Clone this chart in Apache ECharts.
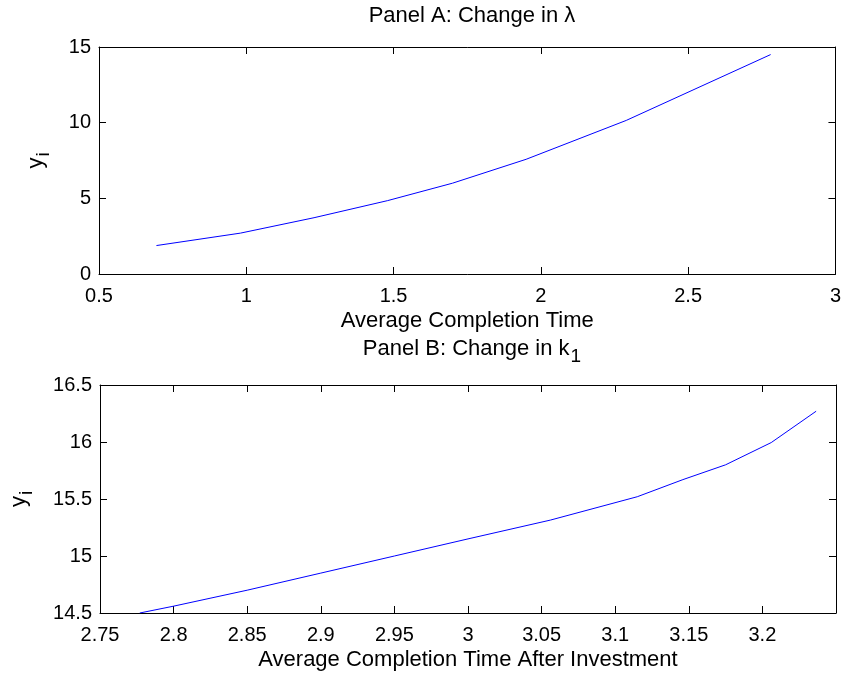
<!DOCTYPE html>
<html>
<head>
<meta charset="utf-8">
<script src="https://cdn.jsdelivr.net/npm/echarts@6/dist/echarts.min.js"></script>
<style>
html,body{margin:0;padding:0;background:#fff;}
#c{width:844px;height:675px;}
</style>
</head>
<body>
<div id="c"></div>
<script>
// Panel A: change in lambda
var panelA_x = [0.695, 0.98, 1.23, 1.48, 1.70, 1.95, 2.29, 2.78];
var panelA_y = [1.88, 2.70, 3.72, 4.85, 6.00, 7.58, 10.15, 14.50];
// Panel B: change in k1
var panelB_x = [2.777, 2.80, 2.85, 2.90, 2.95, 3.00, 3.056, 3.115, 3.146, 3.175, 3.206, 3.2365];
var panelB_y = [14.50, 14.56, 14.70, 14.85, 15.00, 15.15, 15.315, 15.52, 15.67, 15.80, 15.995, 16.27];

var titleA = 'Panel A: Change in \u03bb';
var titleB_main = 'Panel B: Change in k';
var titleB_sub = '1';
var xNameA = 'Average Completion Time';
var xNameB = 'Average Completion Time After Investment';
var yName_main = 'y';
var yName_sub = 'i';

var FONT = 'Liberation Sans, Arial, Helvetica, sans-serif';
var TICK_FS = 20;
var NAME_FS = 22;

function pairs(xs, ys){ return xs.map(function(x,i){return [x, ys[i]];}); }

var richText = {
  m: {fontSize: NAME_FS, fontFamily: FONT, fontWeight:'normal', color:'#000', lineHeight: 26, verticalAlign:'top'},
  s: {fontSize: 19, fontFamily: FONT, fontWeight:'normal', color:'#000', lineHeight: 26, verticalAlign:'top', padding:[9,0,0,1]}
};

function xAx(idx, min, max, interval, name, showMax){
  return [{
    gridIndex: idx, type:'value', position:'bottom', min:min, max:max, interval:interval,
    name: name, nameLocation:'middle', nameGap: 36,
    nameTextStyle:{fontSize: NAME_FS, fontFamily: FONT, color:'#000'},
    axisLine:{show:true, onZero:false, lineStyle:{color:'#000', width:1}},
    axisTick:{show:true, inside:true, length:7, lineStyle:{color:'#000'}},
    axisLabel:{show:true, margin:12, fontSize:TICK_FS, fontFamily:FONT, color:'#000', showMaxLabel: showMax, showMinLabel:true},
    splitLine:{show:false}
  },{
    gridIndex: idx, type:'value', position:'top', min:min, max:max, interval:interval,
    axisLine:{show:true, onZero:false, lineStyle:{color:'#000', width:1}},
    axisTick:{show:true, inside:true, length:7, lineStyle:{color:'#000'}},
    axisLabel:{show:false}, splitLine:{show:false}
  }];
}
function yAx(idx, min, max, interval, gap){
  return [{
    gridIndex: idx, type:'value', position:'left', min:min, max:max, interval:interval,
    name: '{m|' + yName_main + '}{s|' + yName_sub + '}', nameLocation:'middle', nameGap: gap, nameRotate: 90,
    nameTextStyle:{rich: richText},
    axisLine:{show:true, onZero:false, lineStyle:{color:'#000', width:1}},
    axisTick:{show:true, inside:true, length:7, lineStyle:{color:'#000'}},
    axisLabel:{show:true, margin:8, fontSize:TICK_FS, fontFamily:FONT, color:'#000'},
    splitLine:{show:false}
  },{
    gridIndex: idx, type:'value', position:'right', min:min, max:max, interval:interval,
    axisLine:{show:true, onZero:false, lineStyle:{color:'#000', width:1}},
    axisTick:{show:true, inside:true, length:7, lineStyle:{color:'#000'}},
    axisLabel:{show:false}, splitLine:{show:false}
  }];
}

var chart = echarts.init(document.getElementById('c'), null, {renderer:'canvas'});
var xa = xAx(0, 0.5, 3, 0.5, xNameA, true);
var xb = xAx(1, 2.75, 3.25, 0.05, xNameB, false);
var ya = yAx(0, 0, 15, 5, 48);
var yb = yAx(1, 14.5, 16.5, 0.5, 66);

chart.setOption({
  backgroundColor:'#fff',
  animation:false,
  title:[
    {text: titleA, left: 467, top: 0, textAlign:'center',
     textStyle:{fontSize: NAME_FS, fontWeight:'normal', fontFamily: FONT, color:'#000'}},
    {text: '{m|' + titleB_main + '}{s|' + titleB_sub + '}', left: 467, top: 333, textAlign:'center',
     textStyle:{fontWeight:'normal', rich: richText}}
  ],
  grid:[
    {left:99, right:8, top:47, height:227, containLabel:false},
    {left:99, right:8, top:385, height:228, containLabel:false}
  ],
  xAxis:[xa[0], xa[1], xb[0], xb[1]],
  yAxis:[ya[0], ya[1], yb[0], yb[1]],
  series:[
    {type:'line', xAxisIndex:0, yAxisIndex:0, data: pairs(panelA_x, panelA_y), showSymbol:false, symbol:'none',
     lineStyle:{color:'#0000ff', width:1}, clip:true},
    {type:'line', xAxisIndex:2, yAxisIndex:2, data: pairs(panelB_x, panelB_y), showSymbol:false, symbol:'none',
     lineStyle:{color:'#0000ff', width:1}, clip:true}
  ]
});
</script>
</body>
</html>
